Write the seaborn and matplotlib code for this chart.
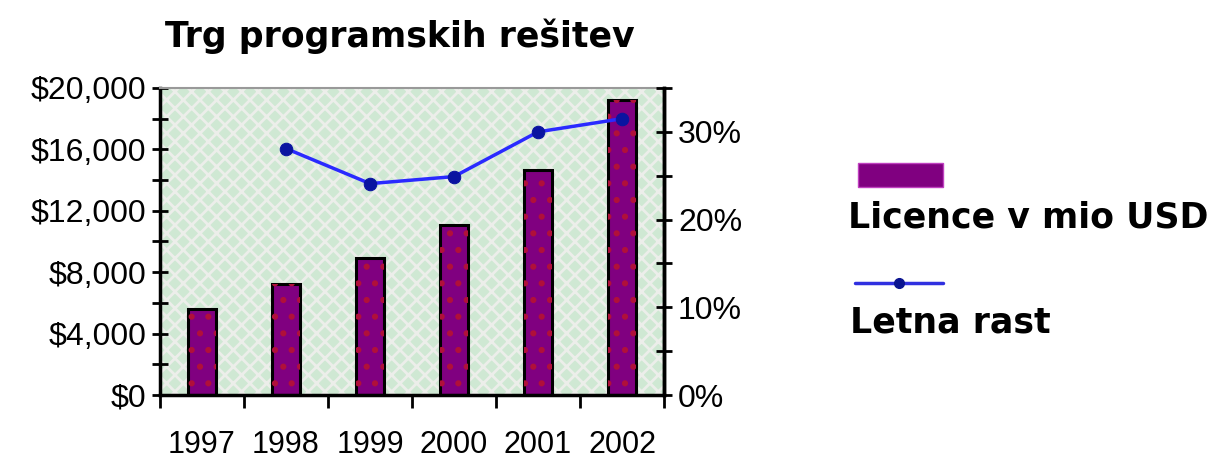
import matplotlib
matplotlib.use("Agg")
import matplotlib.pyplot as plt
from matplotlib.patches import Rectangle
from matplotlib.lines import Line2D
from matplotlib.ticker import MultipleLocator, FuncFormatter, FixedLocator
import seaborn as sns
import pandas as pd

years = ["1997", "1998", "1999", "2000", "2001", "2002"]
licence = [5600, 7200, 8900, 11100, 14650, 19250]
growth_years = ["1998", "1999", "2000", "2001", "2002"]
growth = [0.281, 0.241, 0.249, 0.300, 0.315]

title = "Trg programskih rešitev"
bar_label = "Licence v mio USD"
line_label = "Letna rast"

sns.set_theme(style="white")
plt.rcParams["font.family"] = ["Liberation Sans", "DejaVu Sans"]
plt.rcParams["hatch.linewidth"] = 2.0
plt.rcParams["text.color"] = "black"
plt.rcParams["xtick.labelcolor"] = "black"
plt.rcParams["ytick.labelcolor"] = "black"

W, H = 1216, 461
fig = plt.figure(figsize=(W / 100, H / 100), dpi=100)
ax = fig.add_axes([160 / W, 1 - 395 / H, (664 - 160) / W, (395 - 88) / H])

# patterned plot background
ax.set_facecolor("#cfe8d3")
ax.add_patch(Rectangle((0, 0), 1, 1, transform=ax.transAxes, facecolor="none",
                       edgecolor="#eceeea", hatch="xx", linewidth=0, zorder=0))

df = pd.DataFrame({"year": years, "licence": licence})
sns.barplot(data=df, x="year", y="licence", color="#800080", saturation=1,
            width=0.34, edgecolor="black", linewidth=2.2, ax=ax, zorder=2)
for p in list(ax.patches):
    if p.get_width() < 1:
        ax.add_patch(Rectangle(p.get_xy(), p.get_width(), p.get_height(),
                               facecolor="none", edgecolor="#b0103a", hatch=".",
                               linewidth=0, zorder=2.5))

ax.set_xlim(-0.5, len(years) - 0.5)
ax.set_ylim(0, 20000)
ax.set_xlabel("")
ax.set_ylabel("")

ax.yaxis.set_major_locator(MultipleLocator(4000))
ax.yaxis.set_minor_locator(MultipleLocator(2000))
ax.yaxis.set_major_formatter(FuncFormatter(lambda v, _: f"${v:,.0f}"))
ax.tick_params(axis="y", which="both", direction="inout", length=12, width=2,
               color="black", labelsize=23, pad=4, left=True)
ax.tick_params(axis="x", which="major", length=0, labelsize=22, pad=25)
ax.xaxis.set_minor_locator(FixedLocator([i - 0.5 for i in range(len(years) + 1)]))
ax.tick_params(axis="x", which="minor", direction="out", length=9, width=2,
               color="black", bottom=True)

for side in ("left", "bottom", "right"):
    ax.spines[side].set_color("black")
    ax.spines[side].set_linewidth(2.5)
ax.spines["top"].set_color("#999999")
ax.spines["top"].set_linewidth(1.5)

ax2 = ax.twinx()
gdf = pd.DataFrame({"year": growth_years, "growth": growth})
gdf["pos"] = [years.index(y) for y in growth_years]
sns.lineplot(data=gdf, x="pos", y="growth", ax=ax2, color="#2a2aff", linewidth=2.5,
             marker="o", markersize=9, markerfacecolor="#0a14a0",
             markeredgecolor="#0a14a0", zorder=5)
ax2.set_xlim(-0.5, len(years) - 0.5)
ax2.set_ylim(0, 0.35)
ax2.set_xlabel("")
ax2.set_ylabel("")
ax2.yaxis.set_major_locator(MultipleLocator(0.10))
ax2.yaxis.set_minor_locator(MultipleLocator(0.05))
ax2.yaxis.set_major_formatter(FuncFormatter(lambda v, _: f"{v * 100:.0f}%"))
ax2.tick_params(axis="y", which="both", direction="inout", length=12, width=2,
                color="black", labelsize=23, pad=4, right=True)
for s in ax2.spines.values():
    s.set_visible(False)
ax2.spines["right"].set_visible(True)
ax2.spines["right"].set_color("black")
ax2.spines["right"].set_linewidth(2.5)

fig.text(165 / W, 1 - 36 / H, title, fontsize=25, fontweight="bold",
         family=["DejaVu Sans"], va="center", ha="left", color="black")

# legend entries stacked as symbol above label
fig.add_artist(Rectangle((858 / W, 1 - 187 / H), 85 / W, 24 / H,
                         transform=fig.transFigure, facecolor="#800080",
                         edgecolor="#c040c0", linewidth=1))
fig.text(848 / W, 1 - 217 / H, bar_label, fontsize=25, fontweight="bold",
         family=["DejaVu Sans"], va="center", ha="left", color="black")
fig.add_artist(Line2D([855 / W, 943 / W], [1 - 283 / H, 1 - 283 / H],
                      transform=fig.transFigure, color="#3030e0", linewidth=2.5))
fig.add_artist(Line2D([899 / W], [1 - 283 / H], transform=fig.transFigure,
                      marker="o", markersize=7, color="#0a1490"))
fig.text(850 / W, 1 - 322 / H, line_label, fontsize=25, fontweight="bold",
         family=["DejaVu Sans"], va="center", ha="left", color="black")

fig.savefig("out.png", dpi=100, facecolor="white")
